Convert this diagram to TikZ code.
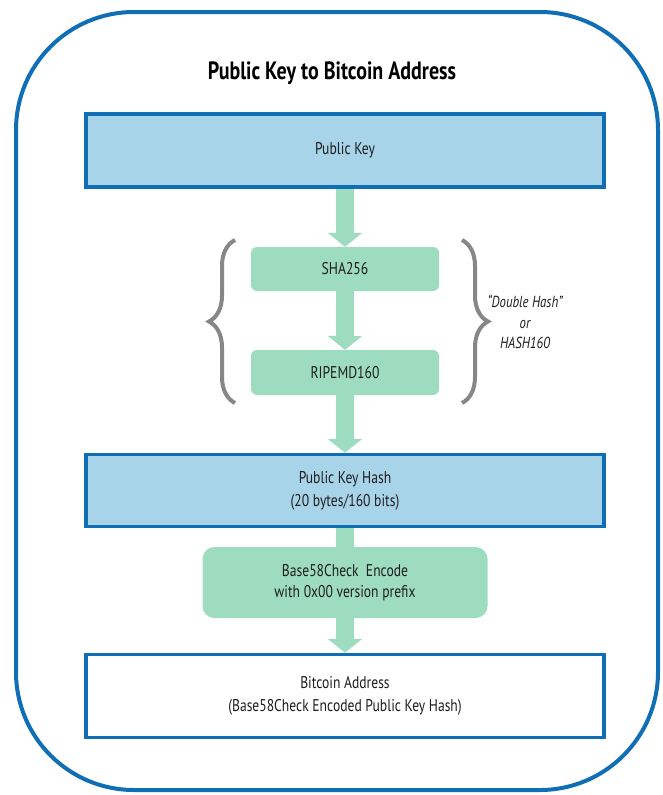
\documentclass[tikz,border=0pt]{standalone}
\usepackage{fontspec}
\setmainfont{PT Sans}[FakeStretch=0.8]
\usetikzlibrary{arrows.meta,decorations.pathreplacing,backgrounds}
\definecolor{bblue}{RGB}{16,110,180}
\definecolor{lblue}{RGB}{168,212,234}
\definecolor{lgreen}{RGB}{158,220,192}
\definecolor{bgray}{RGB}{135,135,135}
\definecolor{txt}{RGB}{30,30,30}
\begin{document}
\begin{tikzpicture}[x=1pt,y=-1pt,
  bluebox/.style={draw=bblue, line width=3.5pt, fill=lblue, minimum width=518pt, text=txt, align=center, font=\fontsize{17}{23}\selectfont, inner sep=0pt},
  whitebox/.style={bluebox, fill=white},
  greenbox/.style={fill=lgreen, rounded corners=6pt, text=txt, align=center, font=\fontsize{17}{21}\selectfont, inner sep=0pt},
  fatarrow/.style={draw=lgreen, line width=18pt, -{Triangle[width=34pt,length=14pt]}},
  fatline/.style={draw=lgreen, line width=18pt},
  bracestyle/.style={draw=bgray, line width=4pt, decorate, decoration={brace, amplitude=26pt, aspect=0.5}}
]
\useasboundingbox (0,0) rectangle (662,795);
\draw[bblue, line width=4pt, rounded corners=118pt] (16,12) rectangle (658,790);

\node[font=\bfseries\fontsize{25}{30}\selectfont, text=black] (title) at (332,73) {Public Key to Bitcoin Address};

\node[bluebox, minimum height=73pt] (pk) at (345,150.5) {Public Key};
\node[greenbox, minimum width=188pt, minimum height=44pt] (sha) at (345,269) {SHA256};
\node[greenbox, minimum width=188pt, minimum height=45pt] (rip) at (345,372.5) {RIPEMD160};
\node[bluebox, minimum height=72pt] (pkh) at (345,490.5) {Public Key Hash\\(20 bytes/160 bits)};
\node[greenbox, rounded corners=12pt, minimum width=285pt, minimum height=71pt] (b58) at (345,582.5) {Base58Check\ \ Encode\\with 0x00 version prefix};
\node[whitebox, minimum height=83pt] (addr) at (345,696) {Bitcoin Address\\(Base58Check Encoded Public Key Hash)};

\node[font=\itshape\fontsize{16}{20.5}\selectfont, text=txt, align=center] (dh) at (525,322) {“Double Hash”\\or\\HASH160};

\coordinate (lbt) at (235,240);
\coordinate (lbb) at (235,403);
\coordinate (rbt) at (462,240);
\coordinate (rbb) at (462,403);
\draw[bracestyle] (lbb) -- (lbt);
\draw[bracestyle] (rbt) -- (rbb);

\begin{scope}[on background layer]
\draw[fatarrow] (pk.south) -- (sha.north);
\draw[fatarrow] (sha.south) -- (rip.north);
\draw[fatarrow] (rip.south) -- (pkh.north);
\draw[fatline] (pkh.south) -- (b58.north);
\draw[fatarrow] (b58.south) -- (addr.north);
\end{scope}
\end{tikzpicture}
\end{document}
